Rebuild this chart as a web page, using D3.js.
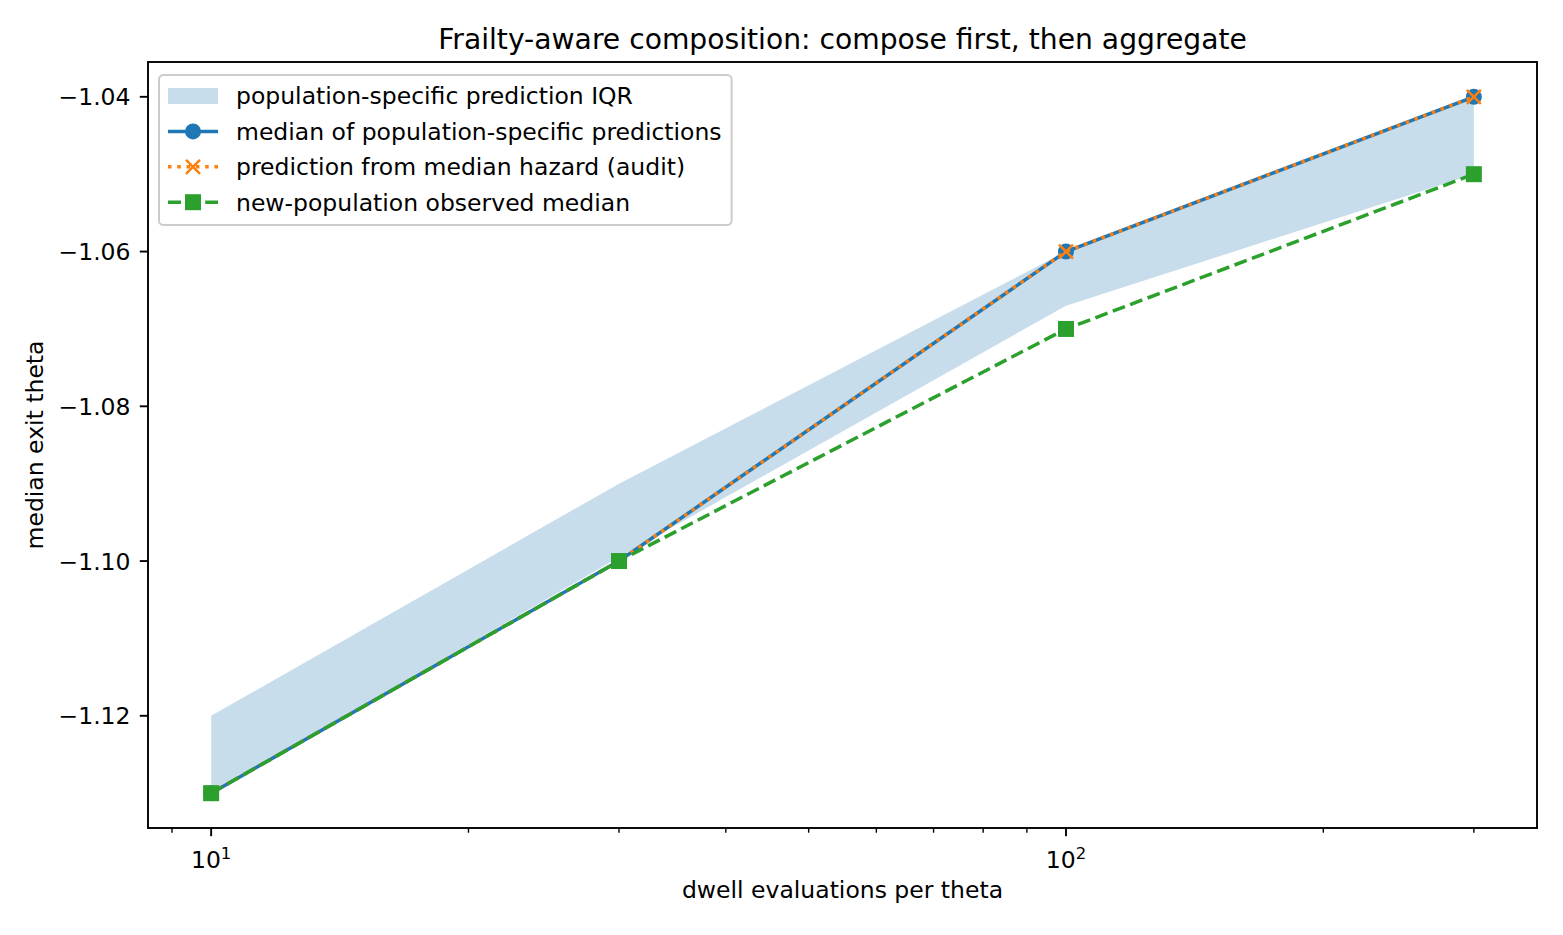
<!DOCTYPE html>
<html>
<head>
<meta charset="utf-8">
<script src="https://cdn.jsdelivr.net/npm/d3@7"></script>
<style>
  body { margin: 0; background: #fff; }
  svg { display: block; font-family: "DejaVu Sans", sans-serif; }
</style>
</head>
<body>
<svg id="chart"></svg>
<script>
// data
const dwell = [10, 30, 100, 300]
const medianPred = [-1.13, -1.10, -1.06, -1.04]
const auditPred = [-1.13, -1.10, -1.06, -1.04]
const observed = [-1.13, -1.10, -1.07, -1.05]
const iqrLow = [-1.13, -1.0995, -1.067, -1.05]
const iqrHigh = [-1.12, -1.09, -1.06, -1.04]
const yTicks = [-1.12, -1.10, -1.08, -1.06, -1.04]
const xMajor = [10, 100]
const xMinor = [9, 20, 30, 40, 50, 60, 70, 80, 90, 200, 300]
const legendLabels = [
  'population-specific prediction IQR',
  'median of population-specific predictions',
  'prediction from median hazard (audit)',
  'new-population observed median'
]

const W = 1563, H = 935
// plot area in px
const pL = 148, pR = 1537, pT = 62, pB = 828
const fs = 23.5   // 10pt
const C0 = '#1f77b4', C1 = '#ff7f0e', C2 = '#2ca02c'

const svg = d3.select('#chart').attr('width', W).attr('height', H)

// scales with matplotlib-like 5% margins
const lx = [Math.log10(d3.min(dwell)), Math.log10(d3.max(dwell))]
const mx = (lx[1] - lx[0]) * 0.05
const xScale = d3.scaleLog()
  .domain([Math.pow(10, lx[0] - mx), Math.pow(10, lx[1] + mx)])
  .range([pL, pR])
const yMin = d3.min(observed.concat(iqrLow, medianPred))
const yMax = d3.max(iqrHigh.concat(medianPred))
const my = (yMax - yMin) * 0.05
const yScale = d3.scaleLinear()
  .domain([yMin - my, yMax + my])
  .range([pB, pT])

const pts = arr => arr.map((v, i) => [xScale(dwell[i]), yScale(v)])
const xMark = (cx, cy) => `M${cx - 7},${cy - 7}L${cx + 7},${cy + 7}M${cx - 7},${cy + 7}L${cx + 7},${cy - 7}`

// IQR band
const area = d3.area()
  .x((d, i) => xScale(dwell[i]))
  .y0((d, i) => yScale(iqrLow[i]))
  .y1((d, i) => yScale(iqrHigh[i]))
svg.append('path')
  .datum(dwell)
  .attr('d', area)
  .attr('fill', C0)
  .attr('fill-opacity', 0.25)

const line = d3.line()

// median of population-specific predictions
svg.append('path')
  .attr('d', line(pts(medianPred)))
  .attr('fill', 'none')
  .attr('stroke', C0)
  .attr('stroke-width', 3.5)
  .attr('stroke-linejoin', 'round')
svg.append('g').selectAll('circle')
  .data(pts(medianPred))
  .join('circle')
    .attr('cx', d => d[0])
    .attr('cy', d => d[1])
    .attr('r', 7)
    .attr('fill', C0)
    .attr('stroke', C0)
    .attr('stroke-width', 2)

// audit prediction, dotted with x markers
svg.append('path')
  .attr('d', line(pts(auditPred)))
  .attr('fill', 'none')
  .attr('stroke', C1)
  .attr('stroke-width', 3.5)
  .attr('stroke-dasharray', '3.5,5.8')
svg.append('g').selectAll('path')
  .data(pts(auditPred))
  .join('path')
    .attr('d', d => xMark(d[0], d[1]))
    .attr('stroke', C1)
    .attr('stroke-width', 2.5)

// observed, dashed with squares
svg.append('path')
  .attr('d', line(pts(observed)))
  .attr('fill', 'none')
  .attr('stroke', C2)
  .attr('stroke-width', 3.5)
  .attr('stroke-dasharray', '13,5.6')
svg.append('g').selectAll('rect')
  .data(pts(observed))
  .join('rect')
    .attr('x', d => d[0] - 7)
    .attr('y', d => d[1] - 7)
    .attr('width', 14)
    .attr('height', 14)
    .attr('fill', C2)
    .attr('stroke', C2)
    .attr('stroke-width', 2)

// axes frame
svg.append('rect')
  .attr('x', pL).attr('y', pT)
  .attr('width', pR - pL).attr('height', pB - pT)
  .attr('fill', 'none').attr('stroke', '#000').attr('stroke-width', 1.9)

// y ticks
const yAxis = svg.append('g')
yAxis.selectAll('line')
  .data(yTicks)
  .join('line')
    .attr('x1', pL).attr('x2', pL - 8.2)
    .attr('y1', d => yScale(d)).attr('y2', d => yScale(d))
    .attr('stroke', '#000').attr('stroke-width', 1.9)
yAxis.selectAll('text')
  .data(yTicks)
  .join('text')
    .attr('x', pL - 17.5)
    .attr('y', d => yScale(d))
    .attr('dy', '0.36em')
    .attr('text-anchor', 'end')
    .attr('font-size', fs)
    .text(d => d3.format('.2f')(d).replace('-', '\u2212'))

// x ticks (log)
const xAxis = svg.append('g')
xAxis.selectAll('line.minor')
  .data(xMinor)
  .join('line')
    .attr('class', 'minor')
    .attr('x1', d => xScale(d)).attr('x2', d => xScale(d))
    .attr('y1', pB).attr('y2', pB + 4.7)
    .attr('stroke', '#000').attr('stroke-width', 1.4)
xAxis.selectAll('line.major')
  .data(xMajor)
  .join('line')
    .attr('class', 'major')
    .attr('x1', d => xScale(d)).attr('x2', d => xScale(d))
    .attr('y1', pB).attr('y2', pB + 8.2)
    .attr('stroke', '#000').attr('stroke-width', 1.9)
const xl = xAxis.selectAll('text')
  .data(xMajor)
  .join('text')
    .attr('x', d => xScale(d))
    .attr('y', 868)
    .attr('text-anchor', 'middle')
    .attr('font-size', fs)
xl.append('tspan').text('10')
xl.append('tspan')
  .attr('dy', -9)
  .attr('font-size', fs * 0.7)
  .text(d => Math.round(Math.log10(d)))

// labels and title
svg.append('text')
  .attr('x', (pL + pR) / 2).attr('y', 898)
  .attr('text-anchor', 'middle').attr('font-size', fs)
  .text('dwell evaluations per theta')
svg.append('text')
  .attr('transform', `translate(43,${(pT + pB) / 2}) rotate(-90)`)
  .attr('text-anchor', 'middle').attr('font-size', fs)
  .text('median exit theta')
svg.append('text')
  .attr('x', (pL + pR) / 2).attr('y', 49)
  .attr('text-anchor', 'middle').attr('font-size', fs * 1.2)
  .text('Frailty-aware composition: compose first, then aggregate')

// legend
const lg = svg.append('g')
const box = lg.append('rect')
  .attr('x', 159).attr('y', 75).attr('height', 150)
  .attr('rx', 4.5)
  .attr('fill', '#fff').attr('fill-opacity', 0.8)
  .attr('stroke', '#cccccc').attr('stroke-width', 2)
const rowY = i => 96 + i * 35.4
const hx0 = 168, hx1 = 218, hc = (hx0 + hx1) / 2

lg.append('rect')
  .attr('x', hx0).attr('y', rowY(0) - 8).attr('width', hx1 - hx0).attr('height', 16)
  .attr('fill', C0).attr('fill-opacity', 0.25)

lg.append('line')
  .attr('x1', hx0).attr('x2', hx1).attr('y1', rowY(1)).attr('y2', rowY(1))
  .attr('stroke', C0).attr('stroke-width', 3.5)
lg.append('circle')
  .attr('cx', hc).attr('cy', rowY(1)).attr('r', 7)
  .attr('fill', C0).attr('stroke', C0).attr('stroke-width', 2)

lg.append('line')
  .attr('x1', hx0).attr('x2', hx1).attr('y1', rowY(2)).attr('y2', rowY(2))
  .attr('stroke', C1).attr('stroke-width', 3.5).attr('stroke-dasharray', '3.5,5.8')
lg.append('path')
  .attr('d', xMark(hc, rowY(2)))
  .attr('stroke', C1).attr('stroke-width', 2.5)

lg.append('line')
  .attr('x1', hx0).attr('x2', hx1).attr('y1', rowY(3)).attr('y2', rowY(3))
  .attr('stroke', C2).attr('stroke-width', 3.5).attr('stroke-dasharray', '13,5.6')
lg.append('rect')
  .attr('x', hc - 7).attr('y', rowY(3) - 7).attr('width', 14).attr('height', 14)
  .attr('fill', C2).attr('stroke', C2).attr('stroke-width', 2)

const lt = lg.selectAll('text.lbl')
  .data(legendLabels)
  .join('text')
    .attr('class', 'lbl')
    .attr('x', 236)
    .attr('y', (d, i) => rowY(i))
    .attr('dy', '0.36em')
    .attr('font-size', fs)
    .text(d => d)
let maxW = 0
lt.each(function () { maxW = Math.max(maxW, this.getComputedTextLength()) })
box.attr('width', 236 + maxW + 10 - 159)
</script>
</body>
</html>
